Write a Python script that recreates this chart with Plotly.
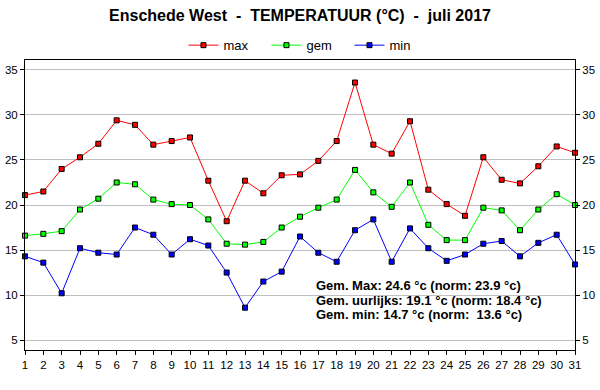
import plotly.graph_objects as go

days = list(range(1, 32))
t_max = [21.1, 21.5, 24.0, 25.3, 26.8, 29.4, 28.9, 26.7, 27.1, 27.5,
         22.7, 18.2, 22.7, 21.3, 23.3, 23.4, 24.9, 27.1, 33.6, 26.7,
         25.7, 29.3, 21.7, 20.1, 18.8, 25.3, 22.8, 22.4, 24.3, 26.5, 25.8]
t_gem = [16.6, 16.8, 17.1, 19.5, 20.7, 22.5, 22.3, 20.6, 20.1, 20.0,
         18.4, 15.7, 15.6, 15.9, 17.5, 18.7, 19.7, 20.6, 23.9, 21.4,
         19.8, 22.5, 17.8, 16.1, 16.1, 19.7, 19.4, 17.2, 19.5, 21.2, 20.0]
t_min = [14.3, 13.6, 10.2, 15.2, 14.7, 14.5, 17.5, 16.7, 14.5, 16.2,
         15.5, 12.5, 8.6, 11.5, 12.6, 16.5, 14.7, 13.7, 17.2, 18.4,
         13.7, 17.4, 15.2, 13.8, 14.5, 15.7, 16.0, 14.3, 15.8, 16.7, 13.4]
y_ticks = [5, 10, 15, 20, 25, 30, 35]
summary_lines = [
    "Gem. Max: 24.6 °c (norm: 23.9 °c)",
    "Gem. uurlijks: 19.1 °c (norm: 18.4 °c)",
    "Gem. min: 14.7 °c (norm:  13.6 °c)",
]
title_text = "Enschede West  -  TEMPERATUUR (°C)  -  juli 2017"

FONT = "Liberation Sans, Arial, sans-serif"
series = [("max", t_max, "#ff0000"), ("gem", t_gem, "#00ff00"), ("min", t_min, "#0000ff")]

fig = go.Figure()
for name, vals, col in series:
    fig.add_trace(go.Scatter(
        x=days, y=vals, name=name, mode="lines+markers",
        line=dict(color=col, width=1),
        marker=dict(symbol="square", size=5, color=col, line=dict(color="black", width=1)),
        cliponaxis=False,
    ))
# invisible trace to carry the right-hand axis
fig.add_trace(go.Scatter(x=days, y=t_min, yaxis="y2", mode="lines",
                         line=dict(width=0), opacity=0, showlegend=False, hoverinfo="skip"))

yr = [3.9, 36.1]
axis_common = dict(
    range=yr, tickvals=y_ticks, ticks="outside", ticklen=4, tickcolor="black",
    showline=True, linecolor="black", linewidth=1, zeroline=False, automargin=False,
    tickfont=dict(family=FONT, size=11.5, color="black"),
)
fig.update_layout(
    width=600, height=390,
    margin=dict(l=25, r=25, t=60, b=40, autoexpand=False),
    paper_bgcolor="white", plot_bgcolor="white",
    title=dict(text="<b>" + title_text + "</b>", x=0.5, xanchor="center",
               y=1 - 15 / 390, yanchor="middle", yref="container",
               font=dict(family=FONT, size=16, color="black")),
    legend=dict(orientation="h", x=0.5145, xanchor="center", y=1.051, yanchor="middle",
                font=dict(family=FONT, size=13, color="black"),
                itemwidth=30, entrywidth=38, entrywidthmode="pixels",
                bgcolor="rgba(0,0,0,0)"),
    xaxis=dict(range=[1, 31], tickvals=days, ticks="outside", ticklen=4, tickcolor="black",
               showline=True, linecolor="black", linewidth=1, mirror=True,
               showgrid=False, zeroline=False, automargin=False,
               tickfont=dict(family=FONT, size=11.5, color="black")),
    yaxis=dict(showgrid=True, gridcolor="#c0c0c0", gridwidth=1, **axis_common),
    yaxis2=dict(overlaying="y", side="right", showgrid=False, **axis_common),
    showlegend=True,
)
# summary lines, one annotation per line
line_vals = [11.05, 9.4, 7.8]
for txt, yv in zip(summary_lines, line_vals):
    fig.add_annotation(
        x=16.74, y=yv, xref="x", yref="y", xanchor="left", yanchor="middle",
        text="<b>" + txt + "</b>", showarrow=False, align="left",
        font=dict(family=FONT, size=13, color="black"),
    )
fig.write_html("out.html", config={"displayModeBar": False},
               post_script="document.body.style.margin='0';")
